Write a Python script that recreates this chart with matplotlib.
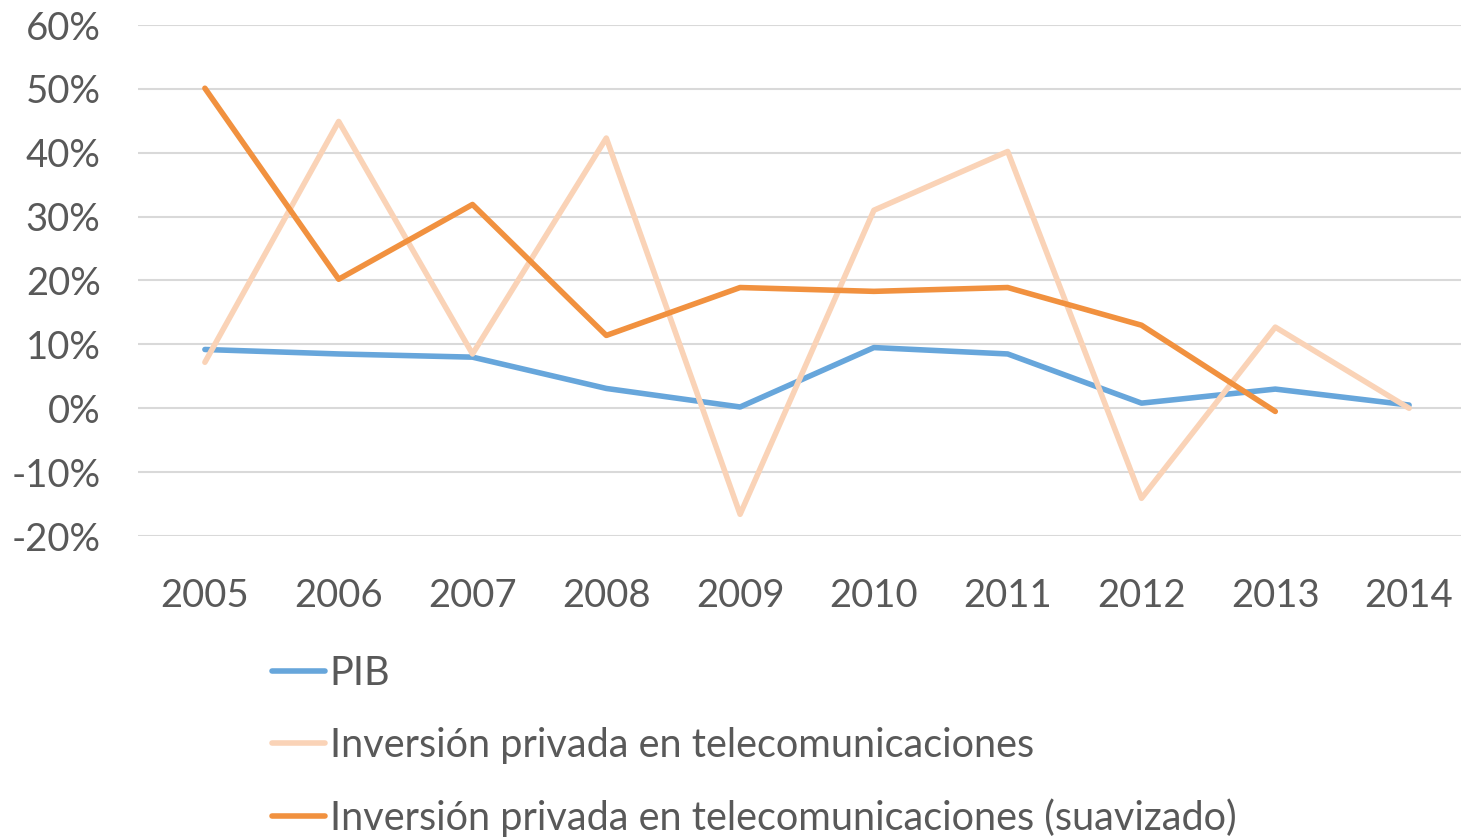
import matplotlib
matplotlib.use("Agg")
import matplotlib.pyplot as plt
from matplotlib.ticker import FuncFormatter

years = ['2005', '2006', '2007', '2008', '2009', '2010', '2011', '2012', '2013', '2014']
pib = [9.2, 8.5, 8.0, 3.1, 0.2, 9.5, 8.5, 0.8, 3.0, 0.5]
inversion = [7.2, 44.9, 8.5, 42.3, -16.6, 31.0, 40.2, -14.1, 12.7, 0.0]
suavizado = [50.1, 20.2, 31.9, 11.4, 18.9, 18.3, 18.9, 13.0, -0.5]

plt.rcParams['font.family'] = ['Lato', 'DejaVu Sans']
text_color = '#595959'

fig = plt.figure(figsize=(14.61, 8.38), dpi=100)
ax = fig.add_axes([138 / 1461, 1 - 536 / 838, (1476 - 138) / 1461, (536 - 25) / 838])

x = list(range(len(years)))
ax.plot(x, pib, color='#67A6DB', lw=4, label='PIB', solid_capstyle='round')
ax.plot(x, inversion, color='#FAD3B7', lw=4, label='Inversión privada en telecomunicaciones', solid_capstyle='round')
ax.plot(x[:len(suavizado)], suavizado, color='#F1913F', lw=4,
        label='Inversión privada en telecomunicaciones (suavizado)', solid_capstyle='round')

ax.set_xlim(-0.5, 9.5)
ax.set_ylim(-20, 60)
ax.set_yticks(range(-20, 61, 10))
ax.yaxis.set_major_formatter(FuncFormatter(lambda v, p: f'{v:.0f}%'))
ax.set_xticks(x)
ax.set_xticklabels(years)
ax.grid(axis='y', color='#D9D9D9', lw=1.5)
ax.set_axisbelow(True)
for s in ax.spines.values():
    s.set_visible(False)
ax.tick_params(length=0, labelsize=27.5, colors=text_color)
ax.tick_params(axis='x', pad=30)
ax.tick_params(axis='y', pad=27)

leg = fig.legend(loc='upper left', bbox_to_anchor=(272 / 1461, 1 - 655 / 838), frameon=False,
                 fontsize=28.5, handlelength=1.34, handletextpad=0.12, labelspacing=0.88,
                 borderaxespad=0, borderpad=0)
for t in leg.get_texts():
    t.set_color(text_color)

fig.savefig('out.png', dpi=100)
